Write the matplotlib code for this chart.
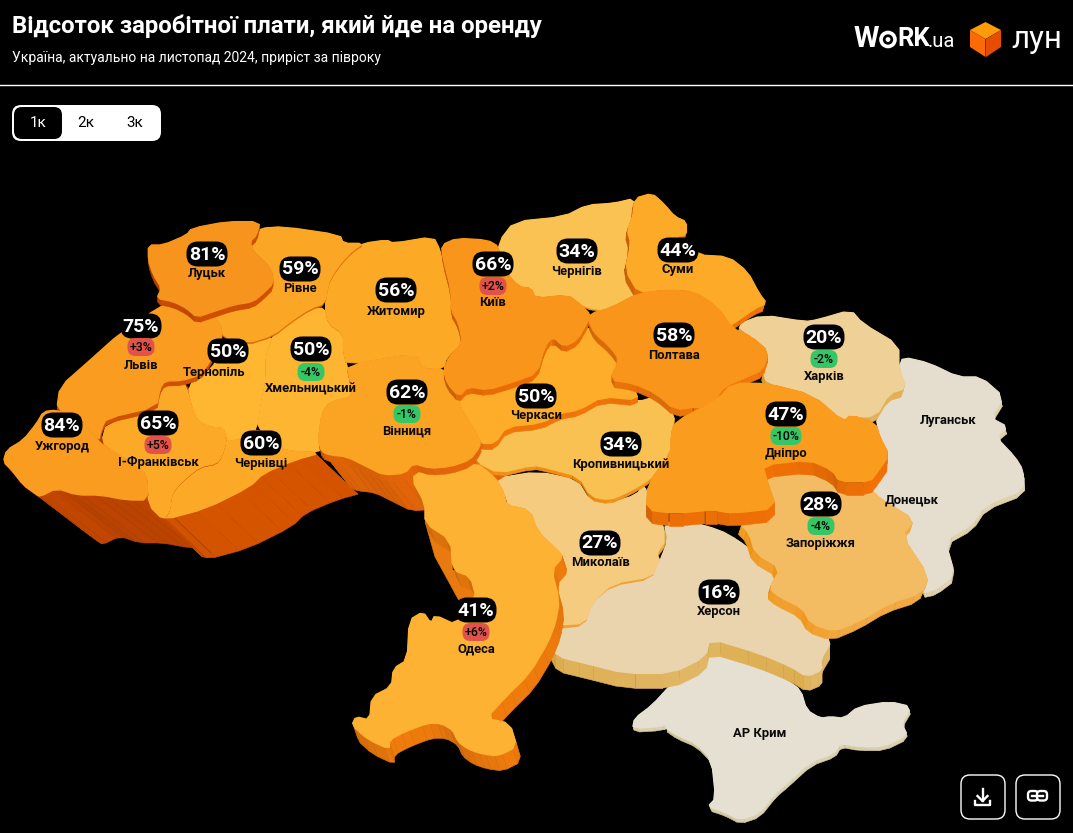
import colorsys
import matplotlib
matplotlib.use("Agg")
import matplotlib.pyplot as plt
from matplotlib.patches import FancyBboxPatch, Polygon, Circle

plt.rcParams['font.family'] = ['Roboto', 'DejaVu Sans']

# values
regions = ["Луцьк", "Рівне", "Львів", "Тернопіль", "Хмельницький", "Житомир", "Київ", "Чернігів", "Суми",
           "Полтава", "Харків", "Луганськ", "Донецьк", "Черкаси", "Кропивницький", "Дніпро", "Запоріжжя",
           "Миколаїв", "Херсон", "Одеса", "АР Крим", "Вінниця", "Чернівці", "Ужгород", "І-Франківськ"]
rent_share = [81, 59, 75, 50, 50, 56, 66, 34, 44, 58, 20, None, None, 50, 34, 47, 28, 27, 16, 41, None, 62, 60, 84, 65]
half_year_change = [None, None, 3, None, -4, None, 2, None, None, None, -2, None, None, None, None, -10, -4,
                    None, None, 6, None, -1, None, None, 5]
tab_labels = ["1к", "2к", "3к"]

# where the labels sit, px: x, percent pill y, change pill y, name y
label_x = [207, 300, 141, 214, 311, 396, 493, 577, 678, 674, 824, 948, 912, 536, 621, 786, 821, 600, 719, 476,
           760, 407, 261, 62, 158]
pill_x = [207, 300, 141, 228, 311, 396, 493, 577, 678, 674, 824, 948, 912, 536, 621, 786, 821, 600, 719, 476,
          760, 407, 261, 62, 158]
pill_y = [254, 269, 326, 351, 349, 290, 264, 251, 250, 335, 337, 0, 0, 396, 444, 414, 504, 543, 592, 610, 0,
          392, 443, 425, 423]
delta_y = [0, 0, 347, 0, 372, 0, 286, 0, 0, 0, 359, 0, 0, 0, 0, 436, 526, 0, 0, 632, 0, 414, 0, 0, 445]
name_y = [274, 289, 365, 372, 389, 311, 303, 271, 270, 355, 376, 420, 500, 415, 464, 453, 543, 562, 611, 649,
          733, 431, 463, 446, 462]


def crop1(pts):
    return [(x / 3, y / 3 + 180) for x, y in pts]


def crop2(pts):
    return [(x / 2.613 + 430, y / 3 + 180) for x, y in pts]


def crop3(pts):
    return [(x / 2.529 + 340, y / 3 + 460) for x, y in pts]


outlines = {
    "Луцьк": crop1([(445, 195), (490, 195), (560, 165), (575, 145), (680, 125), (780, 125), (770, 165), (750, 185),
                    (760, 215), (800, 250), (815, 275), (820, 310), (790, 340), (760, 365), (700, 375), (640, 395),
                    (590, 412), (560, 385), (520, 365), (470, 355), (485, 325), (460, 285), (445, 240)]),
    "Рівне": crop1([(780, 145), (850, 140), (1020, 165), (1030, 190), (1090, 190), (1060, 210), (1030, 240),
                    (1000, 280), (985, 310), (975, 370), (930, 385), (870, 425), (820, 465), (740, 490), (668, 470),
                    (660, 430), (640, 410), (700, 385), (760, 375), (800, 340), (825, 300), (810, 260), (760, 215),
                    (750, 185), (775, 165)]),
    "Житомир": crop1([(1090, 190), (1160, 180), (1180, 190), (1300, 170), (1320, 210), (1330, 260), (1360, 330),
                      (1350, 390), (1380, 440), (1385, 490), (1340, 530), (1330, 565), (1265, 568), (1250, 520),
                      (1040, 555), (1030, 510), (1030, 460), (985, 430), (975, 380), (985, 310), (1000, 280),
                      (1030, 240), (1060, 210)]),
    "Львів": crop1([(480, 380), (520, 365), (560, 385), (590, 412), (640, 410), (660, 430), (668, 470), (630, 545),
                    (600, 585), (545, 602), (495, 603), (480, 625), (470, 680), (320, 715), (305, 745), (295, 785),
                    (240, 715), (170, 690), (180, 620), (265, 545), (360, 460)]),
    "Ужгород": crop1([(170, 690), (240, 715), (295, 785), (340, 815), (410, 860), (440, 885), (445, 960), (380, 960),
                      (300, 945), (230, 945), (170, 925), (120, 950), (105, 940), (70, 915), (35, 870), (10, 845),
                      (20, 810), (70, 780), (110, 730), (130, 695)]),
    "І-Франківськ": crop1([(305, 785), (320, 730), (470, 690), (480, 630), (495, 610), (550, 605), (565, 640),
                           (575, 680), (590, 720), (625, 740), (670, 745), (680, 780), (665, 830), (650, 850),
                           (600, 860), (550, 900), (515, 940), (510, 990), (490, 1020), (445, 975), (445, 890),
                           (410, 860), (340, 815)]),
    "Тернопіль": crop1([(565, 615), (610, 590), (650, 545), (668, 490), (740, 490), (820, 465), (795, 520),
                        (795, 600), (780, 670), (770, 745), (745, 770), (690, 785), (680, 780), (670, 745),
                        (625, 740), (590, 720), (575, 680)]),
    "Хмельницький": crop1([(820, 465), (870, 425), (930, 385), (975, 385), (985, 430), (1030, 460), (1030, 510),
                           (1040, 555), (1050, 600), (1060, 650), (990, 665), (965, 700), (955, 780), (970, 815),
                           (850, 812), (840, 790), (770, 745), (780, 670), (795, 600), (795, 520)]),
    "Чернівці": crop1([(680, 780), (690, 785), (745, 770), (770, 745), (840, 790), (850, 812), (965, 818), (885, 840),
                       (790, 880), (750, 920), (620, 985), (490, 1020), (510, 990), (515, 940), (550, 900),
                       (600, 860), (650, 850), (665, 830)]),
    "Вінниця": crop1([(1040, 555), (1250, 520), (1265, 568), (1330, 565), (1345, 600), (1375, 650), (1380, 680),
                      (1410, 730), (1440, 780), (1440, 800), (1410, 840), (1350, 860), (1290, 865), (1240, 850),
                      (1215, 880), (1150, 885), (1100, 860), (1040, 830), (990, 825), (965, 815), (955, 780),
                      (965, 700), (990, 665), (1060, 650), (1050, 600)]),
    "Київ": crop2([(30, 195), (70, 175), (150, 180), (180, 200), (180, 250), (230, 320), (265, 325), (275, 355),
                   (360, 345), (395, 375), (420, 405), (410, 430), (385, 480), (350, 500), (320, 470), (300, 500),
                   (280, 580), (220, 605), (150, 630), (100, 620), (75, 650), (45, 610), (35, 570), (50, 530),
                   (85, 490), (75, 430), (55, 390), (55, 330), (35, 240)]),
    "Чернігів": crop2([(180, 185), (220, 125), (350, 110), (410, 75), (480, 70), (535, 55), (530, 110), (515, 150),
                       (525, 190), (510, 270), (545, 320), (540, 350), (480, 395), (400, 380), (365, 345),
                       (280, 360), (265, 325), (230, 320), (180, 250)]),
    "Суми": crop2([(535, 55), (580, 40), (610, 70), (640, 110), (670, 125), (670, 165), (640, 170), (700, 225),
                   (780, 230), (830, 275), (860, 340), (880, 370), (850, 385), (800, 425), (780, 440), (750, 380),
                   (690, 335), (620, 330), (545, 340), (510, 270), (525, 190), (515, 150), (530, 110)]),
    "Полтава": crop2([(420, 400), (470, 385), (545, 340), (620, 330), (690, 335), (750, 380), (790, 445), (840, 470),
                      (885, 515), (870, 570), (830, 590), (770, 620), (750, 650), (755, 690), (700, 680), (640, 690),
                      (590, 640), (530, 610), (470, 600), (495, 540), (470, 500), (430, 460), (415, 425)]),
    "Харків": crop2([(800, 435), (870, 405), (980, 425), (1010, 420), (1100, 390), (1130, 430), (1225, 495),
                     (1225, 565), (1245, 625), (1200, 640), (1165, 710), (1090, 710), (1080, 725), (1010, 650),
                     (880, 610), (870, 570), (885, 515), (840, 470)]),
    "Черкаси": crop2([(75, 660), (100, 625), (150, 632), (220, 605), (280, 580), (300, 500), (320, 470), (350, 500),
                      (385, 480), (410, 440), (430, 465), (495, 530), (470, 600), (530, 615), (545, 660), (450, 650),
                      (390, 690), (340, 700), (290, 730), (200, 740), (170, 790), (130, 790), (125, 760), (85, 700)]),
    "Кропивницький": crop2([(130, 810), (170, 790), (200, 745), (290, 735), (340, 705), (390, 695), (450, 655),
                            (545, 665), (590, 650), (640, 700), (630, 770), (630, 810), (590, 880), (565, 905),
                            (520, 935), (470, 960), (420, 950), (390, 890), (310, 865), (270, 855), (180, 880),
                            (120, 845)]),
    "Дніпро": crop2([(640, 725), (750, 660), (790, 610), (880, 610), (1000, 645), (1080, 725), (1100, 705),
                     (1165, 730), (1175, 770), (1200, 825), (1170, 875), (1150, 905), (1070, 905), (1050, 870),
                     (990, 840), (870, 855), (880, 900), (905, 985), (790, 1000), (740, 990), (640, 1000), (565, 990),
                     (570, 910), (630, 820), (630, 765)]),
    "Запоріжжя": crop3([(1075, 35), (1170, 25), (1240, 30), (1255, 80), (1340, 85), (1370, 120), (1455, 180),
                        (1420, 225), (1490, 350), (1470, 400), (1390, 430), (1320, 480), (1250, 515), (1190, 490),
                        (1170, 445), (1110, 410), (1085, 385), (1115, 325), (1050, 280), (1035, 220), (1010, 190),
                        (1105, 145)]),
    "Херсон": crop3([(820, 190), (870, 180), (960, 210), (1005, 240), (1050, 280), (1110, 330), (1085, 385),
                     (1110, 410), (1170, 445), (1190, 490), (1245, 540), (1215, 600), (1220, 630), (1180, 650),
                     (1140, 620), (1060, 580), (935, 535), (925, 590), (840, 640), (720, 640), (620, 610), (550, 590),
                     (530, 545), (545, 510), (620, 500), (640, 430), (690, 380), (790, 360), (810, 300), (830, 240)]),
    "Миколаїв": crop3([(395, 55), (500, 35), (600, 60), (630, 120), (680, 130), (750, 105), (770, 70), (785, 150),
                       (815, 190), (825, 240), (800, 280), (810, 305), (790, 350), (690, 370), (640, 425), (620, 490),
                       (550, 495), (555, 420), (535, 330), (565, 290), (545, 265), (500, 215), (480, 150), (420, 135),
                       (415, 100)]),
    "Одеса": crop3([(180, 55), (210, 30), (340, 5), (395, 55), (415, 100), (420, 135), (480, 150), (500, 215),
                    (545, 265), (565, 290), (535, 330), (555, 420), (545, 490), (525, 550), (480, 640), (420, 710),
                    (370, 775), (430, 790), (447, 860), (400, 888), (360, 882), (325, 868), (298, 845), (285, 810),
                    (255, 790), (220, 790), (165, 815), (125, 840), (125, 868), (70, 838), (30, 795), (40, 770),
                    (75, 780), (80, 710), (130, 680), (135, 625), (170, 600), (175, 480), (210, 455), (230, 490),
                    (240, 465), (295, 495), (345, 415), (330, 350), (285, 330), (280, 240), (215, 190), (215, 130)]),
    "АР Крим": crop3([(910, 630), (935, 570), (1000, 600), (1080, 635), (1130, 660), (1165, 690), (1180, 750),
                      (1215, 775), (1240, 770), (1275, 775), (1310, 740), (1390, 725), (1445, 740), (1420, 790),
                      (1435, 825), (1375, 860), (1310, 860), (1265, 850), (1250, 880), (1190, 905), (1130, 970),
                      (1100, 1000), (1060, 1060), (1010, 1080), (970, 1055), (930, 1040), (950, 1015), (940, 900),
                      (900, 850), (850, 825), (820, 800), (845, 785), (810, 800), (740, 805), (745, 775), (790, 735),
                      (840, 670)]),
    "Луганськ": [(903, 357), (929, 363), (958, 377), (981, 377), (1004, 397), (991, 418), (1008, 427), (996, 437),
                 (1015, 457), (1023, 470), (1024, 490), (985, 505), (972, 525), (945, 540), (955, 575), (935, 590),
                 (921, 593), (929, 577), (901, 535), (915, 520), (882, 500), (870, 488), (870, 482), (878, 472),
                 (889, 455), (880, 437), (876, 417), (889, 393), (906, 388), (899, 368)],
}

top_colors = {"Луцьк": "#F7941E", "Рівне": "#FCA626", "Львів": "#FA9C20", "Тернопіль": "#FFB732",
              "Хмельницький": "#FEB531", "Житомир": "#FCA926", "Київ": "#F8951A", "Чернігів": "#F9C253",
              "Суми": "#FCAA28", "Полтава": "#F8951A", "Харків": "#EFD198", "Луганськ": "#E5DDCE",
              "Черкаси": "#FDAD29", "Кропивницький": "#F9C052", "Дніпро": "#FA9C1E", "Запоріжжя": "#F3BC62",
              "Миколаїв": "#F5CB80", "Херсон": "#EAD4AE", "Одеса": "#FEB233", "АР Крим": "#E6E0D2",
              "Вінниця": "#FBA424", "Чернівці": "#FDA928", "Ужгород": "#F99C20", "І-Франківськ": "#FCA927"}
wall_colors = {"Луцьк": "#CC4C04", "Рівне": "#D96A08", "Львів": "#CC5004", "Тернопіль": "#E87A10",
               "Хмельницький": "#F0A030", "Житомир": "#E8860F", "Київ": "#E56A06", "Чернігів": "#EE9A2A",
               "Суми": "#EA7008", "Полтава": "#EC7408", "Харків": "#E2AE52", "Луганськ": "#DCCFA4",
               "Черкаси": "#EC7208", "Кропивницький": "#F09018", "Дніпро": "#EC6E06", "Запоріжжя": "#F2A63C",
               "Миколаїв": "#F0A030", "Херсон": "#E0B45E", "Одеса": "#E8780C", "АР Крим": "#D8CFA8",
               "Вінниця": "#E06408", "Чернівці": "#D05200", "Ужгород": "#BC4400", "І-Франківськ": "#C64A00"}

# tall walls of the south-west, drawn behind every top face
deep_walls = [("Ужгород", (63, 48)), ("І-Франківськ", (42, 40)), ("Чернівці", (42, 40)), ("Вінниця", (28, 36))]
# paint order and the short wall each region drops on its neighbours
paint_order = [("Луганськ", (1, 5)), ("АР Крим", (1, 4)), ("Хмельницький", (0, 1)), ("Тернопіль", (0, 1)),
               ("Чернігів", (0, 2)), ("Житомир", (0, 1)), ("Рівне", (0, 2)), ("Чернівці", (0, 1)),
               ("Миколаїв", (0, 5)), ("Херсон", (0, 15)), ("Кропивницький", (0, 4)), ("Одеса", (5, 15)),
               ("Харків", (-2, 8)), ("Запоріжжя", (-3, 9)), ("Черкаси", (0, 6)), ("Вінниця", (1, 7)),
               ("І-Франківськ", (0, 1)), ("Львів", (0, 5)), ("Ужгород", (0, 1)), ("Луцьк", (0, 6)),
               ("Суми", (-2, 7)), ("Київ", (0, 6)), ("Полтава", (0, 7)), ("Дніпро", (0, 13))]
odesa_west_wall = crop3([(215, 185), (240, 290), (300, 420), (345, 415), (330, 350), (285, 330), (280, 240)])


def soften(pts, cut=0.22):
    # one pass of corner cutting, the source borders have no hard corners
    out = []
    for i in range(len(pts)):
        a, b = pts[i], pts[(i + 1) % len(pts)]
        out.append((a[0] + (b[0] - a[0]) * cut, a[1] + (b[1] - a[1]) * cut))
        out.append((b[0] - (b[0] - a[0]) * cut, b[1] - (b[1] - a[1]) * cut))
    return out


outlines = {k: soften(v) for k, v in outlines.items()}


def shade(color, amount):
    r, g, b = matplotlib.colors.to_rgb(color)
    h, l, s = colorsys.rgb_to_hls(r, g, b)
    return colorsys.hls_to_rgb(h, min(1, max(0, l * amount)), s)


def draw_walls(ax, pts, vec, color, z):
    # one quad per outline edge, light depends on where the edge faces
    quads = []
    for i in range(len(pts)):
        a, b = pts[i], pts[(i + 1) % len(pts)]
        quads.append((a, b))
    quads.sort(key=lambda q: q[0][1] + q[1][1])
    for a, b in quads:
        dx, dy = b[0] - a[0], b[1] - a[1]
        length = max((dx * dx + dy * dy) ** 0.5, 1)
        amount = 0.9 - 0.1 * (dx / length) + 0.08 * (dy / length)
        c = shade(color, amount)
        ax.add_patch(Polygon([a, b, (b[0] + vec[0], b[1] + vec[1]), (a[0] + vec[0], a[1] + vec[1])],
                             closed=True, fc=c, ec=c, lw=0.4, zorder=z))


fig = plt.figure(figsize=(10.73, 8.33), dpi=100, facecolor="black")
ax = fig.add_axes([0, 0, 1, 1])
ax.set_xlim(0, 1073)
ax.set_ylim(833, 0)
ax.axis("off")

# map
for name, vec in deep_walls:
    draw_walls(ax, outlines[name], vec, wall_colors[name], 1)
ax.add_patch(Polygon(odesa_west_wall, closed=True, fc="#E87A10", ec="#E87A10", lw=0.4, zorder=1))

z = 2
for name, vec in paint_order:
    draw_walls(ax, outlines[name], vec, wall_colors[name], z)
    c = top_colors[name]
    ax.add_patch(Polygon(outlines[name], closed=True, fc=c, ec=c, lw=1.0, joinstyle="round", zorder=z + 0.5))
    z += 1

# labels
for i, name in enumerate(regions):
    if rent_share[i] is not None:
        ax.add_patch(FancyBboxPatch((pill_x[i] - 11.5, pill_y[i] - 3.5), 23, 7, boxstyle="round,pad=9,rounding_size=11.5",
                                    fc="black", ec="none", zorder=50))
        ax.text(pill_x[i], pill_y[i] + 0.5, f"{rent_share[i]}%", color="white", fontsize=14, fontweight="bold",
                ha="center", va="center", zorder=51)
    if half_year_change[i] is not None:
        val = half_year_change[i]
        col = "#E0524A" if val > 0 else "#35C765"
        w = 15 if abs(val) < 10 else 19
        ax.add_patch(FancyBboxPatch((pill_x[i] - w / 2, delta_y[i] - 3), w, 6, boxstyle="round,pad=6,rounding_size=8",
                                    fc=col, ec="none", zorder=50))
        ax.text(pill_x[i], delta_y[i] + 0.5, f"{val:+d}%", color="black", fontsize=8.8, fontweight="medium",
                ha="center", va="center", zorder=51)
    ax.text(label_x[i], name_y[i], name, color="#0A0A0A", fontsize=9.4, fontweight="bold",
            ha="center", va="center", zorder=52)

# header
ax.text(12, 26, "Відсоток заробітної плати, який йде на оренду", color="white", fontsize=17.3, fontweight="bold",
        ha="left", va="center")
ax.text(12, 58, "Україна, актуально на листопад 2024, приріст за півроку", color="white", fontsize=10,
        ha="left", va="center")
ax.plot([0, 1073], [84.5, 84.5], color="white", lw=1)

# tabs
ax.add_patch(FancyBboxPatch((18, 111), 137, 24, boxstyle="round,pad=6,rounding_size=9", fc="white", ec="none"))
ax.add_patch(FancyBboxPatch((20, 113), 36, 20, boxstyle="round,pad=6,rounding_size=8", fc="black", ec="none"))
for label, x, c in zip(tab_labels, [38, 86, 135], ["white", "black", "black"]):
    ax.text(x, 123, label, color=c, fontsize=11, ha="center", va="center")

# logos
ax.text(854, 39, "W", color="white", fontsize=21, fontweight="bold", ha="left", va="center")
ax.add_patch(Circle((888, 39.5), 7, fc="none", ec="white", lw=2.6))
ax.add_patch(Circle((888, 39.5), 2.4, fc="white", ec="none"))
ax.text(897, 39, "RK", color="white", fontsize=18.5, fontweight="bold", ha="left", va="center")
ax.text(928, 41.5, ".ua", color="white", fontsize=14.5, ha="left", va="center")
cube_l = [(970, 30), (985.5, 39), (985.5, 57), (970, 47)]
cube_r = [(986, 39), (1001, 30), (1001, 47), (986, 57)]
cube_t = [(970, 30), (985.5, 22), (1001, 30), (985.5, 39)]
ax.add_patch(Polygon(cube_t, closed=True, fc="#FF9A0A", ec="none"))
ax.add_patch(Polygon(cube_l, closed=True, fc="#FB6A05", ec="none"))
ax.add_patch(Polygon(cube_r, closed=True, fc="#E64D03", ec="none"))
ax.text(1011, 39, "лун", color="white", fontsize=22.5, ha="left", va="center")

# buttons
for x0 in [961, 1016]:
    ax.add_patch(FancyBboxPatch((x0 + 8, 783), 28, 28, boxstyle="round,pad=8,rounding_size=9", fc="black", ec="white",
                                lw=1))
ax.plot([982.5, 982.5], [789, 801], color="white", lw=1.7)
ax.plot([977.5, 982.5, 987.5], [796, 801, 796], color="white", lw=1.7)
ax.plot([975, 975, 990, 990], [801, 804.5, 804.5, 801], color="white", lw=1.7)
ax.add_patch(FancyBboxPatch((1031, 794), 4, 3.5, boxstyle="round,pad=3,rounding_size=3.4", fc="none", ec="white", lw=1.7))
ax.add_patch(FancyBboxPatch((1040, 794), 4, 3.5, boxstyle="round,pad=3,rounding_size=3.4", fc="black", ec="white", lw=1.7))
ax.plot([1032, 1043], [796, 796], color="white", lw=1.7, zorder=6)

fig.savefig("out.png", dpi=100, facecolor="black")
